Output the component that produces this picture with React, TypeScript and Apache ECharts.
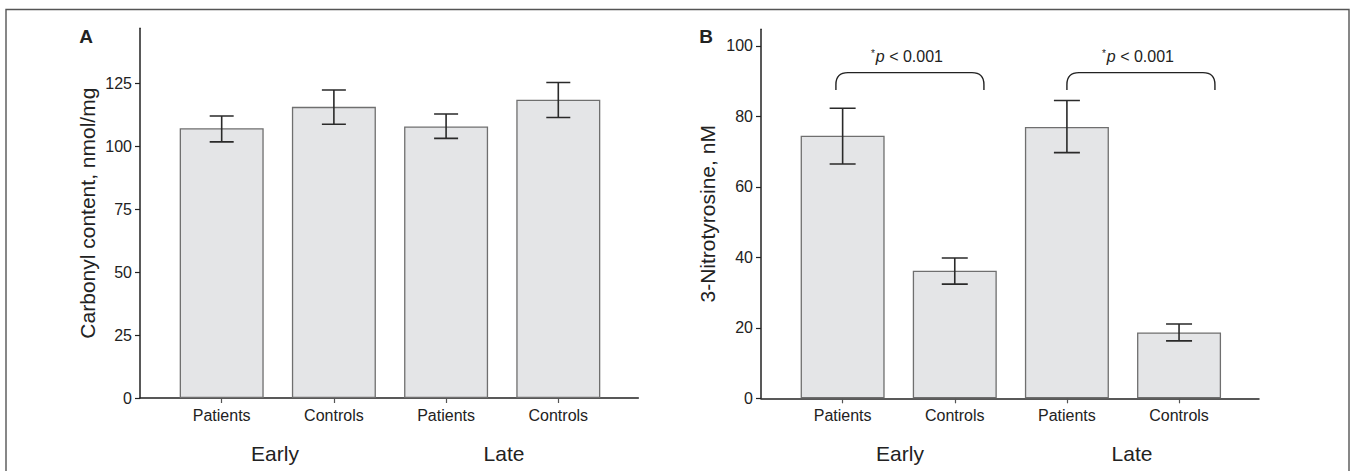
import React, { useEffect, useRef } from "react";
import * as echarts from "echarts";

const categories = ["Patients", "Controls", "Patients", "Controls"];
const groupLabels = ["Early", "Late"];
const carbonylMean = [107.1, 115.6, 107.8, 118.4];
const carbonylLow = [101.7, 108.7, 103.1, 111.4];
const carbonylHigh = [112.0, 122.3, 112.8, 125.3];
const nitroMean = [74.5, 36.2, 77.0, 18.7];
const nitroLow = [66.5, 32.4, 69.7, 16.3];
const nitroHigh = [82.3, 39.8, 84.5, 21.1];
const carbonylTicks = [0, 25, 50, 75, 100, 125];
const nitroTicks = [0, 20, 40, 60, 80, 100];
// [left x, right x, top y, hook bottom y]
const brackets = [
  [-0.06, 1.26, 92.4, 87.5],
  [2.0, 3.32, 92.4, 87.5],
];
const pValueText = "*p < 0.001";

const FONT = "'Liberation Sans', Arial, Helvetica, sans-serif";
const INK = "#222";
const positions = categories.map((_, i) => i);

function xAxisCfg(gridIndex: number) {
  return {
    type: "value",
    gridIndex,
    min: -0.728,
    max: 3.713,
    splitLine: { show: false },
    axisLine: { show: true, onZero: false, lineStyle: { color: INK, width: 1.5 } },
    axisTick: { show: true, customValues: positions, length: 5, lineStyle: { color: "#555", width: 1.2 } },
    axisLabel: {
      customValues: positions,
      formatter: (v: number) => categories[Math.round(v)] ?? "",
      color: INK,
      fontSize: 16,
      fontFamily: FONT,
      margin: 9,
    },
  };
}

function yAxisCfg(gridIndex: number, max: number, ticks: number[], name: string, gap: number) {
  return {
    type: "value",
    gridIndex,
    min: 0,
    max,
    name,
    nameLocation: "middle",
    nameGap: gap,
    nameTextStyle: { fontSize: 21, color: INK, fontFamily: FONT },
    splitLine: { show: false },
    axisLine: { show: true, onZero: false, lineStyle: { color: INK, width: 1.5 } },
    axisTick: { show: true, customValues: ticks, length: 5, lineStyle: { color: INK, width: 1.2 } },
    axisLabel: { customValues: ticks, color: INK, fontSize: 16, fontFamily: FONT, margin: 8 },
  };
}

function barSeries(idx: number, values: number[]) {
  return {
    type: "bar",
    xAxisIndex: idx,
    yAxisIndex: idx,
    barWidth: 84,
    z: 2,
    data: values.map((v, i) => [i, v]),
    itemStyle: { color: "#e4e5e7", borderColor: "#6f6f6f", borderWidth: 1.3 },
    silent: true,
  };
}

function errorSeries(idx: number, lows: number[], highs: number[], cap: number) {
  return {
    type: "custom",
    xAxisIndex: idx,
    yAxisIndex: idx,
    clip: false,
    silent: true,
    z: 10,
    data: lows.map((lo, i) => [i, lo, highs[i]]),
    renderItem: (_p: any, api: any) => {
      const x = api.value(0);
      const lo = api.coord([x, api.value(1)]);
      const hi = api.coord([x, api.value(2)]);
      const h = cap / 2;
      return {
        type: "polyline",
        shape: {
          points: [
            [lo[0] - h, lo[1]],
            [lo[0] + h, lo[1]],
            [lo[0], lo[1]],
            [hi[0], hi[1]],
            [hi[0] - h, hi[1]],
            [hi[0] + h, hi[1]],
          ],
        },
        style: { fill: "none", stroke: "#2a2a2a", lineWidth: 1.6 },
      };
    },
  };
}

function bracketSeries(idx: number) {
  return {
    type: "custom",
    xAxisIndex: idx,
    yAxisIndex: idx,
    clip: false,
    silent: true,
    z: 10,
    data: brackets,
    renderItem: (_p: any, api: any) => {
      const a = api.coord([api.value(0), api.value(2)]);
      const b = api.coord([api.value(1), api.value(3)]);
      const x1 = a[0], x2 = b[0], yt = a[1], yb = b[1];
      const r = 12;
      const d = `M${x1},${yb} L${x1},${yt + r} Q${x1},${yt} ${x1 + r},${yt} L${x2 - r},${yt} Q${x2},${yt} ${x2},${yt + r} L${x2},${yb}`;
      const parts = pValueText.split("p");
      return {
        type: "group",
        children: [
          { type: "path", shape: { pathData: d }, style: { fill: "none", stroke: "#222", lineWidth: 1.4 } },
          {
            type: "text",
            x: (x1 + x2) / 2 - 3,
            y: yt - 16,
            style: {
              text: `{s|${parts[0]}}{i|p}{n|${parts[1]}}`,
              align: "center",
              verticalAlign: "middle",
              fill: INK,
              fontFamily: FONT,
              fontSize: 16,
              rich: {
                s: { fontSize: 10, verticalAlign: "top", fontFamily: FONT, fill: INK, padding: [0, 1, 6, 0] },
                i: { fontSize: 16, fontStyle: "italic", fontFamily: FONT, fill: INK },
                n: { fontSize: 16, fontFamily: FONT, fill: INK },
              },
            },
          },
        ],
      };
    },
  };
}

function textEl(x: number, y: number, text: string, size: number, bold = false) {
  return {
    type: "text",
    x,
    y,
    style: {
      text,
      fontSize: size,
      fontWeight: bold ? "bold" : "normal",
      fontFamily: FONT,
      fill: INK,
      align: "center",
      verticalAlign: "middle",
    },
  };
}

export default function App() {
  const ref = useRef<HTMLDivElement>(null);
  useEffect(() => {
    if (!ref.current) return;
    const chart = echarts.init(ref.current, null, { renderer: "svg" });
    chart.setOption({
      animation: false,
      backgroundColor: "#fff",
      textStyle: { fontFamily: FONT },
      grid: [
        { left: 140, top: 28.3, width: 498.3, height: 369.7 },
        { left: 761, top: 29.3, width: 498, height: 369 },
      ],
      xAxis: [xAxisCfg(0), xAxisCfg(1)],
      yAxis: [
        yAxisCfg(0, 146.8, carbonylTicks, "Carbonyl content, nmol/mg", 42),
        yAxisCfg(1, 104.7, nitroTicks, "3-Nitrotyrosine, nM", 43),
      ],
      series: [
        barSeries(0, carbonylMean),
        errorSeries(0, carbonylLow, carbonylHigh, 24),
        barSeries(1, nitroMean),
        errorSeries(1, nitroLow, nitroHigh, 26),
        bracketSeries(1),
      ],
      graphic: [
        {
          type: "polyline",
          shape: { points: [[6, 471], [6, 9.5], [1349, 9.5], [1349, 471]] },
          style: { fill: "none", stroke: "#555", lineWidth: 1.4 },
          silent: true,
        },
        textEl(86, 36.5, "A", 19, true),
        textEl(706, 36, "B", 19, true),
        textEl(275, 453, groupLabels[0], 21),
        textEl(504, 453, groupLabels[1], 21),
        textEl(900, 453, groupLabels[0], 21),
        textEl(1132, 453, groupLabels[1], 21),
      ],
    });
    return () => chart.dispose();
  }, []);
  return (
    <div
      ref={ref}
      style={{ position: "absolute", left: 0, top: 0, width: 1353, height: 471, background: "#fff" }}
    />
  );
}
